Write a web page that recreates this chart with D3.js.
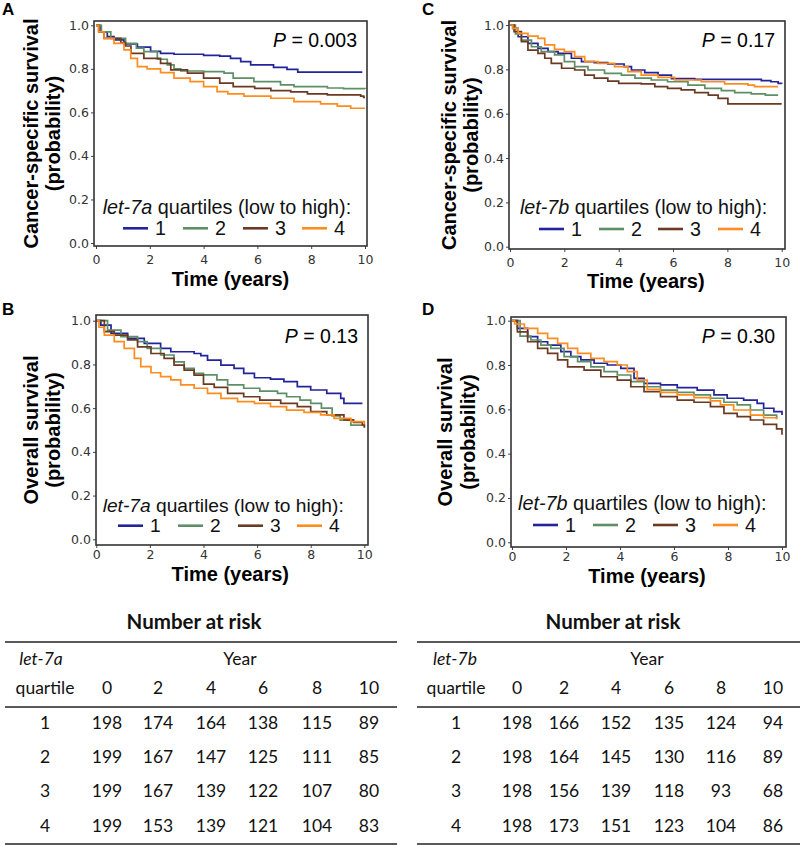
<!DOCTYPE html>
<html><head><meta charset="utf-8">
<script src="https://cdn.jsdelivr.net/npm/d3@7"></script>
<style>html,body{margin:0;padding:0;background:#fff;}svg{display:block;}</style>
</head><body>
<svg id="c" width="800" height="845"></svg>
<script>
// ---------------- DATA ----------------
const quartileLabels = ["1","2","3","4"];
const xTicks = [0,2,4,6,8,10];
const yTicks = [0,0.2,0.4,0.6,0.8,1.0];

// Panel A: cancer-specific survival, let-7a quartiles
const csA_q1 = [[0,1],[0.15,0.97],[0.42,0.948],[0.67,0.933],[1.04,0.914],[1.54,0.90],[2.03,0.88],[2.4,0.871],[2.9,0.867],[4.0,0.862],[4.6,0.858],[5.0,0.848],[5.38,0.833],[5.75,0.818],[6.6,0.807],[7.1,0.798],[7.5,0.785],[9.9,0.785]];
const csA_q2 = [[0,1],[0.2,0.97],[0.55,0.94],[1.1,0.917],[1.5,0.895],[1.78,0.879],[2.28,0.844],[2.65,0.818],[2.9,0.80],[3.15,0.79],[4.0,0.787],[4.76,0.78],[5.1,0.757],[5.87,0.741],[6.86,0.726],[7.36,0.718],[8.6,0.712],[9.2,0.709],[10,0.707]];
const csA_q3 = [[0,1],[0.1,0.97],[0.3,0.94],[0.92,0.92],[1.1,0.905],[1.3,0.871],[1.78,0.848],[2.4,0.825],[2.78,0.795],[3.4,0.78],[4.0,0.757],[4.6,0.734],[5.1,0.718],[5.9,0.71],[6.5,0.70],[7.24,0.694],[7.86,0.685],[8.6,0.68],[9.84,0.675],[9.95,0.669],[10,0.669]];
const csA_q4 = [[0,1],[0.1,0.97],[0.3,0.94],[0.67,0.917],[1.04,0.887],[1.29,0.848],[1.54,0.81],[1.9,0.80],[2.4,0.783],[2.9,0.757],[3.5,0.741],[4.0,0.718],[4.5,0.695],[4.9,0.685],[5.5,0.675],[6.5,0.665],[7.36,0.649],[8.35,0.639],[8.97,0.629],[9.47,0.619],[10,0.619]];

// Panel B: overall survival, let-7a quartiles
const osA_q1 = [[0,1],[0.17,0.98],[0.55,0.942],[1.17,0.919],[1.79,0.896],[2.4,0.873],[2.78,0.858],[3.65,0.85],[3.9,0.84],[4.15,0.82],[4.65,0.797],[5.14,0.782],[5.5,0.759],[5.9,0.739],[6.5,0.733],[7.0,0.721],[7.5,0.698],[8.0,0.683],[8.6,0.668],[9.12,0.645],[9.24,0.622],[9.93,0.622]];
const osA_q2 = [[0,1],[0.42,0.957],[0.92,0.927],[1.54,0.904],[1.9,0.873],[2.4,0.843],[2.9,0.812],[3.28,0.782],[3.65,0.759],[4.0,0.752],[4.5,0.729],[4.9,0.706],[5.5,0.691],[6.1,0.678],[6.76,0.668],[7.1,0.652],[7.6,0.637],[8.0,0.622],[8.4,0.60],[8.8,0.565],[9.1,0.545],[9.5,0.522],[10,0.515]];
const osA_q3 = [[0,1],[0.3,0.95],[0.67,0.934],[1.17,0.912],[1.54,0.88],[2.04,0.85],[2.53,0.828],[2.9,0.797],[3.28,0.774],[3.65,0.751],[4.0,0.71],[4.4,0.695],[4.9,0.668],[5.5,0.652],[6.1,0.637],[6.88,0.622],[7.5,0.607],[8.0,0.584],[8.6,0.569],[9.24,0.546],[9.6,0.535],[9.93,0.523],[10,0.51]];
const osA_q4 = [[0,1],[0.1,0.97],[0.3,0.934],[0.67,0.904],[1.04,0.873],[1.42,0.828],[1.66,0.79],[2.04,0.762],[2.4,0.744],[2.78,0.729],[3.15,0.706],[3.65,0.691],[4.15,0.668],[4.65,0.645],[5.27,0.63],[5.9,0.622],[6.5,0.607],[7.1,0.591],[7.75,0.581],[8.37,0.569],[8.87,0.553],[9.5,0.538],[10,0.525]];

// Panel C: cancer-specific survival, let-7b quartiles
const csB_q1 = [[0,1],[0.1,0.985],[0.3,0.947],[0.66,0.917],[1.03,0.895],[1.4,0.88],[1.77,0.872],[2.26,0.85],[2.63,0.835],[3.1,0.83],[3.6,0.824],[4.2,0.812],[4.47,0.797],[4.96,0.785],[5.45,0.774],[5.94,0.758],[6.8,0.755],[9.25,0.749],[9.6,0.744],[9.87,0.737],[10,0.735]];
const csB_q2 = [[0,1],[0.2,0.96],[0.42,0.932],[0.79,0.902],[1.15,0.88],[1.64,0.865],[2.0,0.835],[2.38,0.812],[2.87,0.797],[3.48,0.782],[4.1,0.774],[4.6,0.76],[5.2,0.752],[5.8,0.744],[6.55,0.729],[7.17,0.714],[7.78,0.704],[8.27,0.695],[8.88,0.689],[9.4,0.684],[9.87,0.684]];
const csB_q3 = [[0,1],[0.15,0.97],[0.42,0.925],[0.66,0.887],[1.03,0.872],[1.28,0.85],[1.52,0.827],[1.9,0.805],[2.38,0.797],[2.75,0.774],[3.1,0.76],[3.6,0.747],[4.0,0.737],[4.83,0.734],[5.33,0.722],[5.8,0.714],[6.3,0.707],[6.8,0.695],[7.3,0.684],[7.66,0.669],[8.02,0.644],[10,0.644]];
const csB_q4 = [[0,1],[0.1,0.985],[0.3,0.962],[0.66,0.95],[1.03,0.94],[1.28,0.91],[1.64,0.89],[2.0,0.88],[2.38,0.857],[2.75,0.835],[3.24,0.827],[3.85,0.812],[4.34,0.79],[4.83,0.774],[5.45,0.764],[6.06,0.752],[7.04,0.744],[7.9,0.734],[8.76,0.729],[9.0,0.722],[9.87,0.722]];

// Panel D: overall survival, let-7b quartiles
const osB_q1 = [[0,1],[0.2,0.965],[0.58,0.928],[0.95,0.905],[1.32,0.89],[1.81,0.86],[2.18,0.838],[2.55,0.823],[3.04,0.808],[3.53,0.80],[4.03,0.785],[4.52,0.74],[4.89,0.717],[5.5,0.71],[6.12,0.698],[6.86,0.687],[7.48,0.665],[7.97,0.65],[8.58,0.642],[9.08,0.627],[9.32,0.605],[9.7,0.59],[10,0.575]];
const osB_q2 = [[0,1],[0.3,0.93],[0.7,0.913],[1.07,0.89],[1.44,0.875],[1.93,0.838],[2.43,0.815],[2.92,0.792],[3.41,0.77],[3.9,0.755],[4.4,0.725],[4.89,0.702],[5.5,0.687],[6.12,0.677],[6.74,0.665],[7.35,0.65],[7.85,0.632],[8.34,0.62],[8.83,0.597],[9.32,0.574],[9.8,0.555]];
const osB_q3 = [[0,1],[0.2,0.95],[0.58,0.905],[0.95,0.875],[1.32,0.853],[1.69,0.823],[2.06,0.792],[2.67,0.777],[3.29,0.747],[3.9,0.732],[4.4,0.702],[4.89,0.68],[5.5,0.657],[6.12,0.642],[6.74,0.632],[7.35,0.612],[7.85,0.582],[8.34,0.567],[8.83,0.552],[9.32,0.532],[9.8,0.512],[10,0.485]];
const osB_q4 = [[0,1],[0.1,0.985],[0.46,0.965],[0.95,0.943],[1.32,0.92],[1.69,0.898],[2.06,0.875],[2.43,0.853],[2.92,0.83],[3.41,0.815],[3.9,0.80],[4.27,0.77],[4.64,0.732],[5.01,0.69],[5.5,0.677],[6.12,0.665],[6.74,0.653],[7.35,0.638],[7.72,0.62],[8.21,0.597],[8.83,0.574],[9.32,0.562],[9.8,0.556]];

const pValues = ["0.003","0.13","0.17","0.30"];
const yTitles = [["Cancer-specific survival","(probability)"],["Overall survival","(probability)"]];
const genes = ["let-7a","let-7b"];

// Number at risk tables
const riskYears = [0,2,4,6,8,10];
const riskQuartiles = [1,2,3,4];
const risk7a = [[198,174,164,138,115,89],[199,167,147,125,111,85],[199,167,139,122,107,80],[199,153,139,121,104,83]];
const risk7b = [[198,166,152,135,124,94],[198,164,145,130,116,89],[198,156,139,118,93,68],[198,173,151,123,104,86]];

// ---------------- STYLE / LAYOUT ----------------
const colors = ["#23239b","#5e8f66","#6b3a22","#ff8c1e"];
const svg = d3.select("#c");

const panels = [
  {label:"A", series:[csA_q1,csA_q2,csA_q3,csA_q4], p:pValues[0], yt:yTitles[0], gene:genes[0],
   box:[94,21,367,246], xr:[96,365], yr:[243,25.3], tick:9.5, labA:[2,15], yt1:38, yt2:60, xtY:286,
   leg:{x:102.7, ty:213.5, ly:228.3, fs:19.8, items:[123,183,243,302]}, pX:357, pY:46.5},
  {label:"B", series:[osA_q1,osA_q2,osA_q3,osA_q4], p:pValues[1], yt:yTitles[1], gene:genes[0],
   box:[96,315,368,545], xr:[96.3,364.3], yr:[539.3,320.7], tick:5.5, labA:[2,315], yt1:38, yt2:60, xtY:581,
   leg:{x:102.7, ty:511.5, ly:525.7, fs:19.2, items:[118,178,238,297]}, pX:358, pY:343},
  {label:"C", series:[csB_q1,csB_q2,csB_q3,csB_q4], p:pValues[2], yt:yTitles[0], gene:genes[1],
   box:[509,21,785,249], xr:[510,781.7], yr:[246.7,25], tick:9, labA:[422,15], yt1:456, yt2:478, xtY:288,
   leg:{x:520, ty:213.5, ly:229, fs:19.7, items:[539,599,658,718]}, pX:775, pY:46.5},
  {label:"D", series:[osB_q1,osB_q2,osB_q3,osB_q4], p:pValues[3], yt:yTitles[1], gene:genes[1],
   box:[511,317,786,547], xr:[512,782], yr:[542.3,320.7], tick:5, labA:[422,315], yt1:452, yt2:475, xtY:583,
   leg:{x:518, ty:510, ly:525, fs:19.8, items:[533,593,653,713]}, pX:775, pY:343}
];

const sans = "'Liberation Sans', Arial, sans-serif";

panels.forEach(pn => {
  const x = d3.scaleLinear().domain([0,10]).range(pn.xr);
  const y = d3.scaleLinear().domain([0,1]).range(pn.yr);
  const [bx0,by0,bx1,by1] = pn.box;
  const g = svg.append("g");

  g.append("text").attr("x",pn.labA[0]).attr("y",pn.labA[1]).text(pn.label)
    .attr("font-family",sans).attr("font-weight","bold").attr("font-size",17).attr("fill","#000");

  const xa = g.append("g").attr("transform",`translate(0,${by1})`)
    .call(d3.axisBottom(x).tickValues(xTicks).tickSize(3).tickPadding(pn.tick-3).tickFormat(d3.format("d")));
  const ya = g.append("g").attr("transform",`translate(${bx0},0)`)
    .call(d3.axisLeft(y).tickValues(yTicks).tickSize(3).tickPadding(2).tickFormat(d3.format(".1f")));
  [xa,ya].forEach(a => {
    a.select(".domain").remove();
    a.selectAll("line").attr("stroke","#444");
    a.selectAll("text").attr("font-family","'DejaVu Sans', sans-serif").attr("font-size",12.5).attr("fill","#333");
  });

  const line = d3.line().x(d=>x(d[0])).y(d=>y(d[1])).curve(d3.curveStepAfter);
  pn.series.forEach((s,i) => {
    g.append("path").datum(s).attr("d",line).attr("fill","none")
      .attr("stroke",colors[i]).attr("stroke-width",1.7);
  });

  g.append("rect").attr("x",bx0).attr("y",by0).attr("width",bx1-bx0).attr("height",by1-by0)
    .attr("fill","none").attr("stroke","#333").attr("stroke-width",1.6);

  const pt = g.append("text").attr("x",pn.pX).attr("y",pn.pY).attr("text-anchor","end")
    .attr("font-family",sans).attr("font-size",19.5).attr("fill","#000");
  pt.append("tspan").attr("font-style","italic").text("P");
  pt.append("tspan").text(" = " + pn.p);

  const lt = g.append("text").attr("x",pn.leg.x).attr("y",pn.leg.ty)
    .attr("font-family",sans).attr("font-size",pn.leg.fs).attr("fill","#111");
  lt.append("tspan").attr("font-style","italic").text(pn.gene);
  lt.append("tspan").text(" quartiles (low to high):");
  pn.leg.items.forEach((lx,i) => {
    g.append("line").attr("x1",lx).attr("x2",lx+25).attr("y1",pn.leg.ly).attr("y2",pn.leg.ly)
      .attr("stroke",colors[i]).attr("stroke-width",2.6);
    g.append("text").attr("x",lx+32).attr("y",pn.leg.ly+6.7).text(quartileLabels[i])
      .attr("font-family",sans).attr("font-size",pn.leg.fs).attr("fill","#111");
  });

  const cx = (pn.xr[0]+pn.xr[1])/2, cy = (by0+by1)/2;
  g.append("text").attr("x",cx).attr("y",pn.xtY).attr("text-anchor","middle").text("Time (years)")
    .attr("font-family",sans).attr("font-weight","bold").attr("font-size",20).attr("fill","#000");
  [pn.yt1,pn.yt2].forEach((bx,i) => {
    g.append("text").attr("transform",`translate(${bx},${cy}) rotate(-90)`).attr("text-anchor","middle")
      .text(pn.yt[i]).attr("font-family",sans).attr("font-weight","bold").attr("font-size",20).attr("fill","#000");
  });
});

// ---------------- TABLES ----------------
const tables = [
  {gene:genes[0], data:risk7a, x0:5, x1:397, titleX:194, geneX:41, labX:45, yearX:240, cols:[107,158,211,263,317,369]},
  {gene:genes[1], data:risk7b, x0:417, x1:800, titleX:613, geneX:455, labX:456, yearX:647, cols:[517,564,616,669,721,773]}
];
const tf = "Lato, 'Open Sans', sans-serif";
const rowY = [729,763,797,832];
tables.forEach(t => {
  const g = svg.append("g").attr("font-family",tf).attr("fill","#111");
  const colX = d3.scaleOrdinal().domain(riskYears).range(t.cols);
  const rowS = d3.scaleOrdinal().domain(riskQuartiles).range(rowY);
  g.append("text").attr("x",t.titleX).attr("y",629).attr("text-anchor","middle").attr("font-weight","bold")
    .attr("font-size",20.5).text("Number at risk");
  [642,707,844].forEach(ly => g.append("line").attr("x1",t.x0).attr("x2",t.x1).attr("y1",ly).attr("y2",ly)
    .attr("stroke","#222").attr("stroke-width",1.5));
  g.append("text").attr("x",t.geneX).attr("y",665).attr("text-anchor","middle").attr("font-style","italic")
    .attr("font-size",17.5).text(t.gene);
  g.append("text").attr("x",t.yearX).attr("y",665).attr("text-anchor","middle").attr("font-size",17.5).text("Year");
  g.append("text").attr("x",t.labX).attr("y",694).attr("text-anchor","middle").attr("font-size",17.5).text("quartile");
  riskYears.forEach(yv => g.append("text").attr("x",colX(yv)).attr("y",694).attr("text-anchor","middle")
    .attr("font-size",17.5).text(yv));
  riskQuartiles.forEach((q,ri) => {
    g.append("text").attr("x",t.labX).attr("y",rowS(q)).attr("text-anchor","middle").attr("font-size",17.5).text(q);
    t.data[ri].forEach((v,ci) => g.append("text").attr("x",colX(riskYears[ci])).attr("y",rowS(q))
      .attr("text-anchor","middle").attr("font-size",17.5).text(v));
  });
});
</script>
</body></html>
